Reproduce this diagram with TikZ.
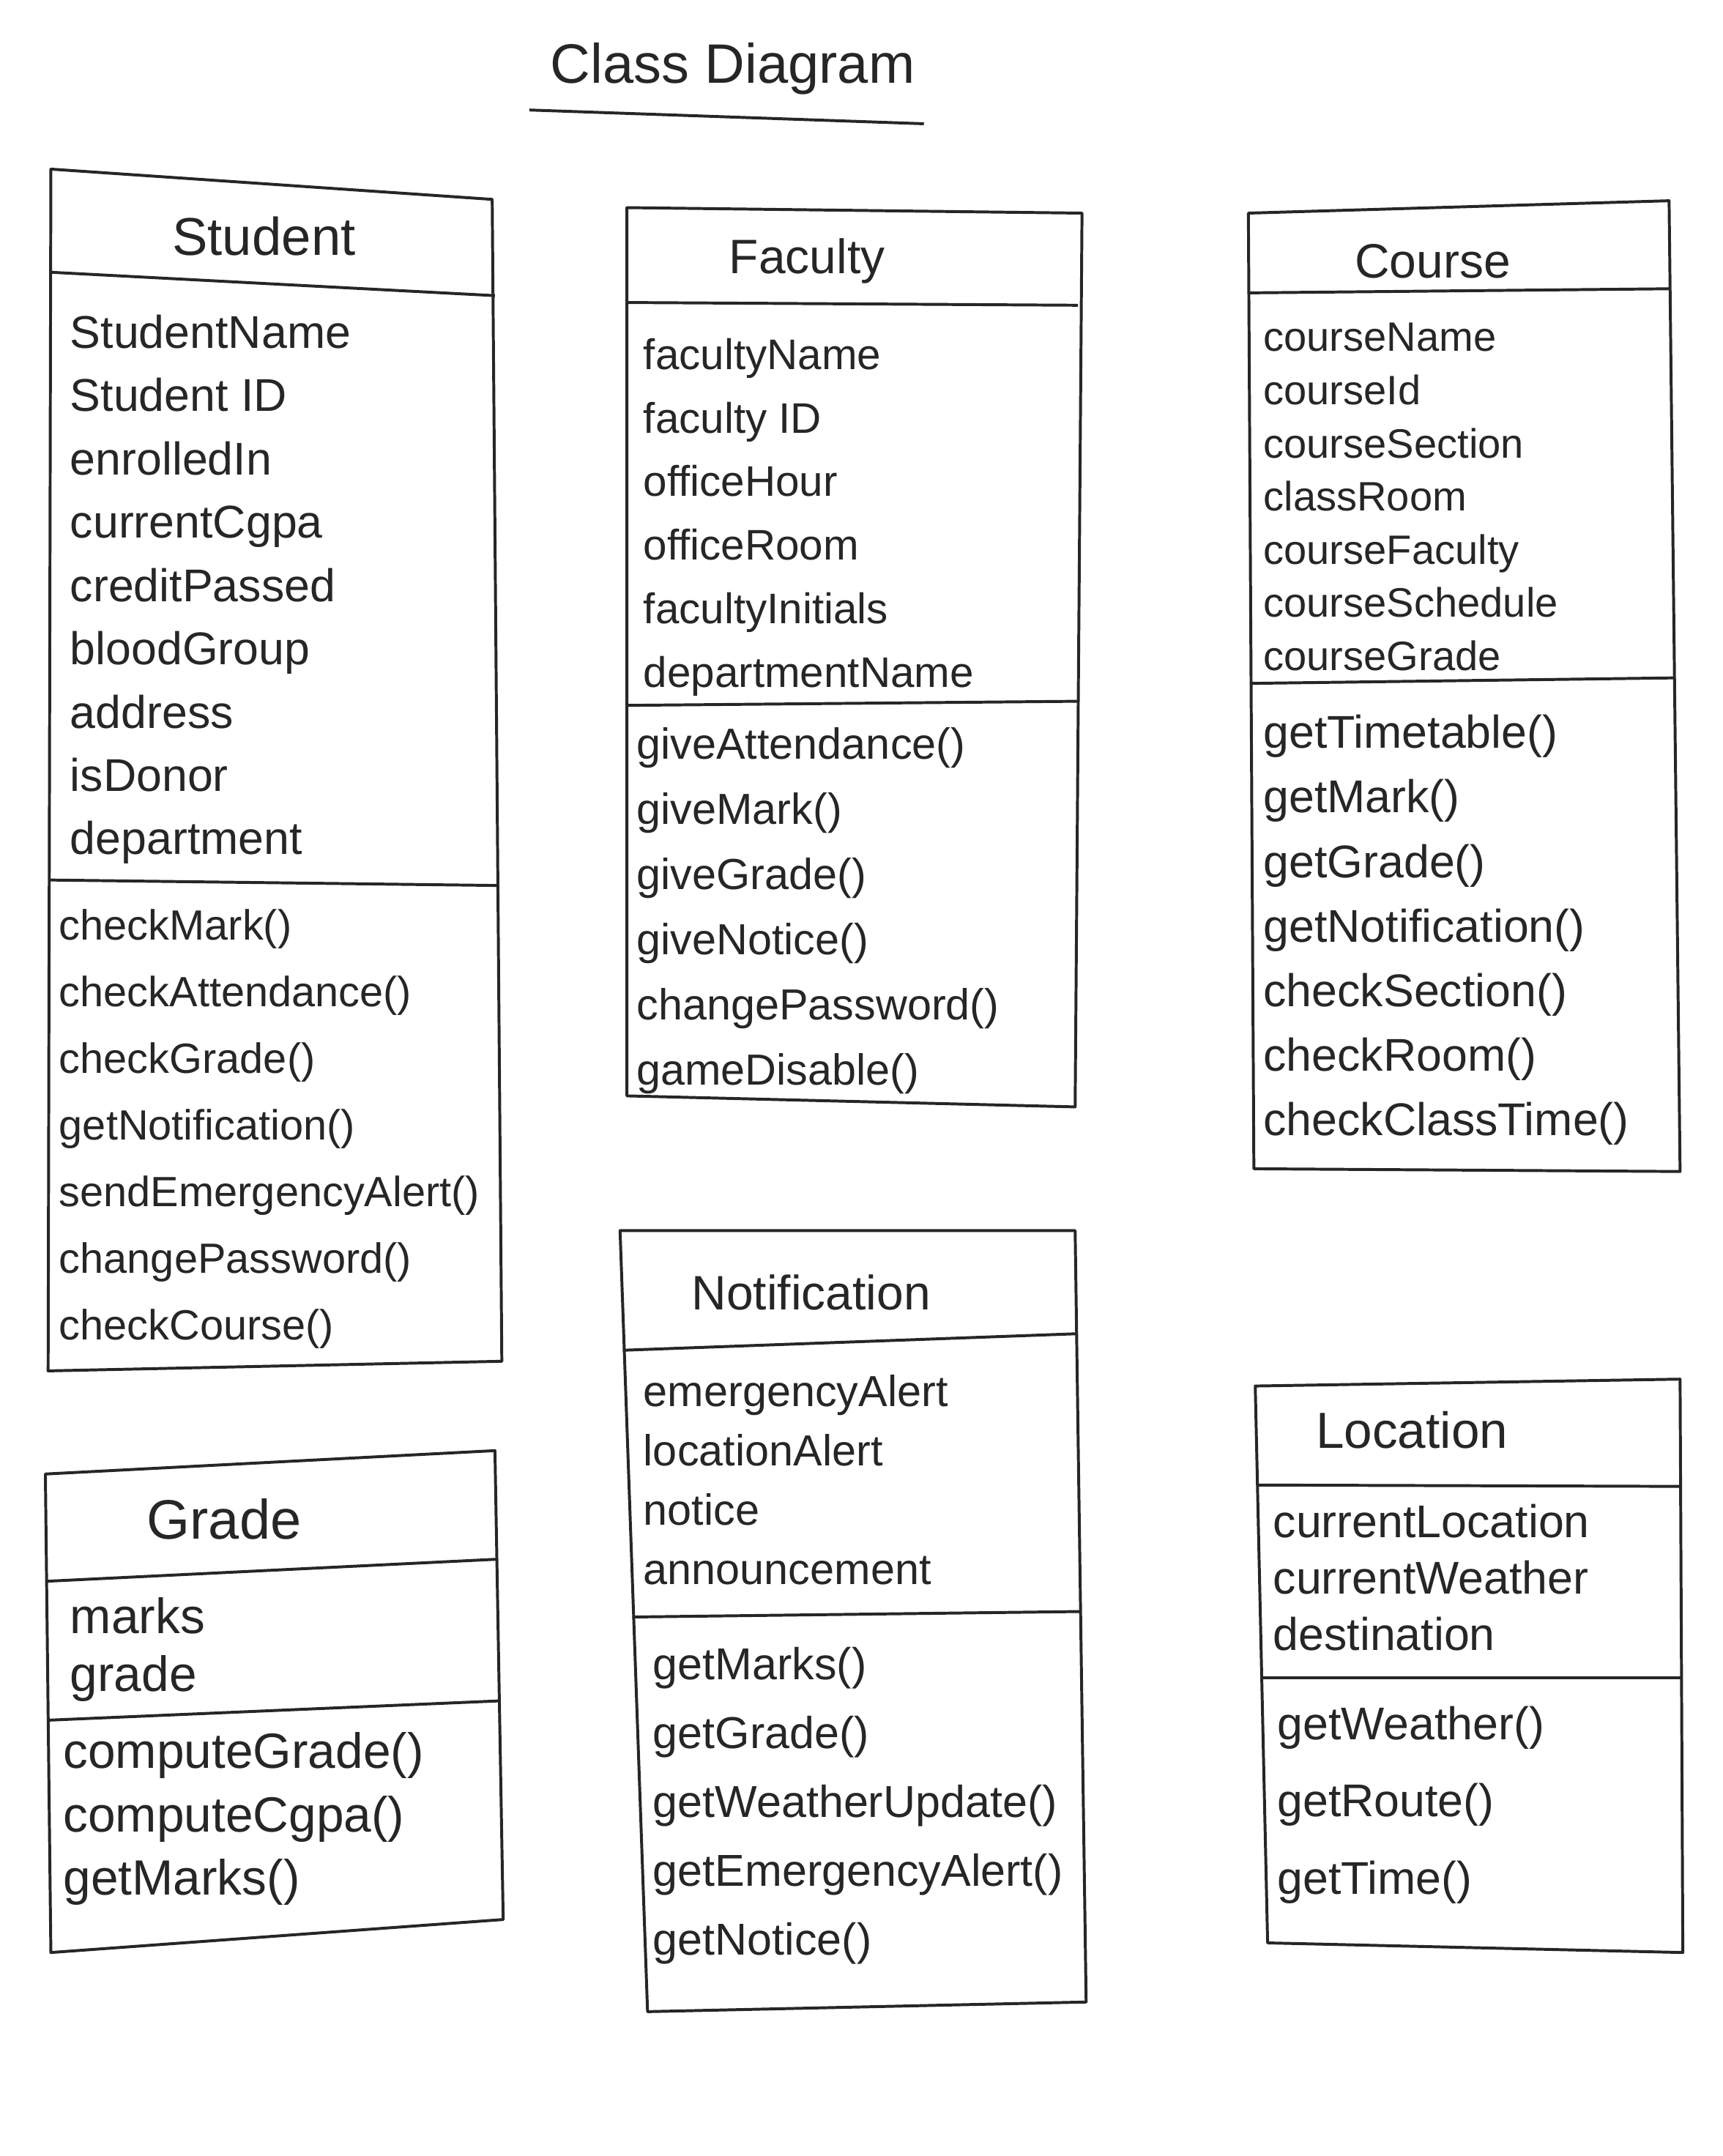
\documentclass[tikz,border=0pt]{standalone}
\usepackage{fontspec}
\setmainfont{Liberation Sans}
\begin{document}
\begin{tikzpicture}[x=0.02cm,y=-0.02cm,
  line width=1.2pt, line join=round,
  boxline/.style={draw=black!85, line width=1.2pt},
  txt/.style={anchor=north west, inner sep=0pt, align=left, text=black!85},
  ttl/.style={inner sep=0pt, text=black!85}]
\useasboundingbox (0,0) rectangle (1253,1568);

% ---------- Title ----------
\node[ttl, font=\fontsize{23}{27}\selectfont] (title) at (533,50) {Class Diagram};
\coordinate (ulA) at (385,80);
\coordinate (ulB) at (672,90);
\draw[boxline] (ulA) -- (ulB);

% ---------- Student ----------
\coordinate (sTL) at (37,123); \coordinate (sTR) at (358,145);
\coordinate (sBR) at (365,990); \coordinate (sBL) at (35,997);
\draw[boxline] (sTL) -- (sTR) -- (sBR) -- (sBL) -- cycle;
\draw[boxline] (37,198) -- (360,215);
\draw[boxline] (36,640) -- (363,644);
\node[ttl, font=\fontsize{22}{26}\selectfont] (studentT) at (192,172) {Student};
\node[txt, font=\fontsize{19}{26.2}\selectfont] (studentA) at (50,228)
  {StudentName\\Student ID\\enrolledIn\\currentCgpa\\creditPassed\\bloodGroup\\address\\isDonor\\department};
\node[txt, font=\fontsize{17.5}{27.6}\selectfont] (studentM) at (42,660)
  {checkMark()\\checkAttendance()\\checkGrade()\\getNotification()\\sendEmergencyAlert()\\changePassword()\\checkCourse()};

% ---------- Faculty ----------
\coordinate (fTL) at (456,151); \coordinate (fTR) at (787,155);
\coordinate (fBR) at (782,805); \coordinate (fBL) at (456,797);
\draw[boxline] (fTL) -- (fTR) -- (fBR) -- (fBL) -- cycle;
\draw[boxline] (457,220) -- (784,222);
\draw[boxline] (456,513) -- (785,510);
\node[ttl, font=\fontsize{20}{24}\selectfont] (facultyT) at (587,190) {Faculty};
\node[txt, font=\fontsize{17.7}{26.3}\selectfont] (facultyA) at (467,245)
  {facultyName\\faculty ID\\officeHour\\officeRoom\\facultyInitials\\departmentName};
\node[txt, font=\fontsize{18}{27}\selectfont] (facultyM) at (462,528)
  {giveAttendance()\\giveMark()\\giveGrade()\\giveNotice()\\changePassword()\\gameDisable()};

% ---------- Course ----------
\coordinate (cTL) at (908,155); \coordinate (cTR) at (1214,146);
\coordinate (cBR) at (1222,852); \coordinate (cBL) at (912,850);
\draw[boxline] (cTL) -- (cTR) -- (cBR) -- (cBL) -- cycle;
\draw[boxline] (908,213) -- (1215,210);
\draw[boxline] (910,497) -- (1218,493);
\node[ttl, font=\fontsize{20}{24}\selectfont] (courseT) at (1042,190) {Course};
\node[txt, font=\fontsize{17}{22}\selectfont] (courseA) at (918,234)
  {courseName\\courseId\\courseSection\\classRoom\\courseFaculty\\courseSchedule\\courseGrade};
\node[txt, font=\fontsize{19}{26.7}\selectfont] (courseM) at (918,519)
  {getTimetable()\\getMark()\\getGrade()\\getNotification()\\checkSection()\\checkRoom()\\checkClassTime()};

% ---------- Notification ----------
\coordinate (nTL) at (451,895); \coordinate (nTR) at (782,895);
\coordinate (nBR) at (790,1456); \coordinate (nBL) at (471,1463);
\draw[boxline] (nTL) -- (nTR) -- (nBR) -- (nBL) -- cycle;
\draw[boxline] (453,982) -- (783,970);
\draw[boxline] (460,1176) -- (786,1172);
\node[ttl, font=\fontsize{20}{24}\selectfont] (notifT) at (590,940) {Notification};
\node[txt, font=\fontsize{18}{24.5}\selectfont] (notifA) at (467,999)
  {emergencyAlert\\locationAlert\\notice\\announcement};
\node[txt, font=\fontsize{18.5}{28.5}\selectfont] (notifM) at (474,1197)
  {getMarks()\\getGrade()\\getWeatherUpdate()\\getEmergencyAlert()\\getNotice()};

% ---------- Grade ----------
\coordinate (gTL) at (33,1072); \coordinate (gTR) at (360,1055);
\coordinate (gBR) at (366,1396); \coordinate (gBL) at (37,1420);
\draw[boxline] (gTL) -- (gTR) -- (gBR) -- (gBL) -- cycle;
\draw[boxline] (34,1150) -- (361,1134);
\draw[boxline] (36,1251) -- (363,1237);
\node[ttl, font=\fontsize{23}{27}\selectfont] (gradeT) at (163,1105) {Grade};
\node[txt, font=\fontsize{20.5}{23.9}\selectfont] (gradeA) at (50,1161)
  {marks\\grade};
\node[txt, font=\fontsize{20.5}{26.2}\selectfont] (gradeM) at (45,1259)
  {computeGrade()\\computeCgpa()\\getMarks()};

% ---------- Location ----------
\coordinate (lTL) at (913,1008); \coordinate (lTR) at (1222,1003);
\coordinate (lBR) at (1224,1420); \coordinate (lBL) at (922,1413);
\draw[boxline] (lTL) -- (lTR) -- (lBR) -- (lBL) -- cycle;
\draw[boxline] (915,1080) -- (1222,1081);
\draw[boxline] (917,1220) -- (1223,1220);
\node[ttl, font=\fontsize{21}{25}\selectfont] (locT) at (1027,1040) {Location};
\node[txt, font=\fontsize{19}{23.3}\selectfont] (locA) at (925,1093)
  {currentLocation\\currentWeather\\destination};
\node[txt, font=\fontsize{19}{31.9}\selectfont] (locM) at (928,1240)
  {getWeather()\\getRoute()\\getTime()};
\end{tikzpicture}
\end{document}
